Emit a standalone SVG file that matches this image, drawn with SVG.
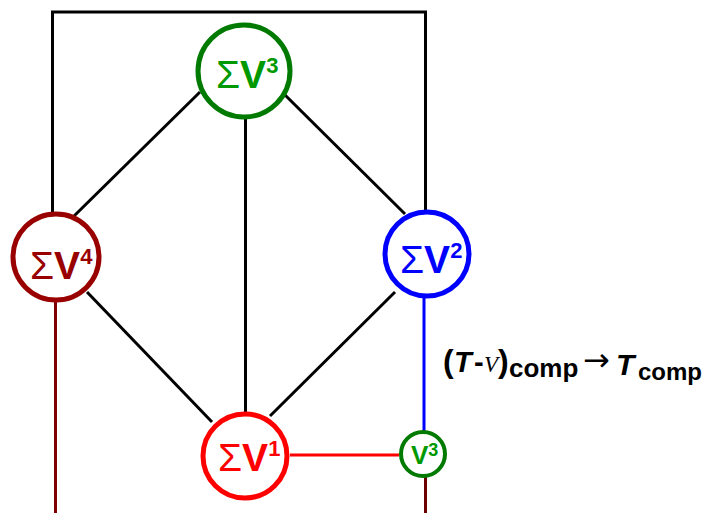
<svg xmlns="http://www.w3.org/2000/svg" width="707" height="513" viewBox="0 0 707 513">
<style>
.ln{fill:none;stroke-width:3}
.k{stroke:#000}
.node{fill:#fff;stroke-width:5}
.lab{font-family:"Liberation Sans",Arial,sans-serif;font-size:39px}
.s{font-weight:normal}
.b{font-weight:bold}
.sup{font-weight:bold;font-size:22px}
.eq{font-family:"Liberation Sans",Arial,sans-serif;font-weight:bold;fill:#000}
</style>
<rect width="707" height="513" fill="#fff"/>
<g id="connectors">
<polyline class="ln k" points="52.5,213 52.5,12 425.5,12 425.5,211"/>
<line class="ln k" x1="200" y1="92" x2="73" y2="217"/>
<line class="ln k" x1="283" y1="93" x2="405" y2="214"/>
<line class="ln k" x1="245.5" y1="118" x2="245.5" y2="413"/>
<line class="ln k" x1="87" y1="292" x2="212" y2="422"/>
<line class="ln k" x1="395" y1="292" x2="270" y2="416"/>
<line class="ln" stroke="#800000" x1="55.5" y1="301" x2="55.5" y2="513"/>
<line class="ln" stroke="#0000ff" x1="424" y1="297" x2="424" y2="431"/>
<line class="ln" stroke="#ff0000" x1="290" y1="455" x2="399" y2="455"/>
<line class="ln" stroke="#6b0000" x1="425.5" y1="477" x2="425.5" y2="513"/>
</g>
<g id="sumV3">
<circle class="node" stroke="#007a00" cx="244" cy="71" r="46"/>
<text class="lab" fill="#009900" x="216" y="88"><tspan class="s">Σ</tspan><tspan class="b">V</tspan><tspan class="sup" dy="-15">3</tspan></text>
</g>
<g id="sumV4">
<circle class="node" stroke="#990000" cx="56" cy="257" r="43"/>
<text class="lab" fill="#990000" x="30" y="279"><tspan class="s">Σ</tspan><tspan class="b">V</tspan><tspan class="sup" dy="-15">4</tspan></text>
</g>
<g id="sumV2">
<circle class="node" stroke="#0000ff" cx="427" cy="254" r="42"/>
<text class="lab" fill="#0000ff" x="400" y="273"><tspan class="s">Σ</tspan><tspan class="b">V</tspan><tspan class="sup" dy="-15">2</tspan></text>
</g>
<g id="sumV1">
<circle class="node" stroke="#ff0000" cx="245" cy="456" r="42"/>
<text class="lab" fill="#ff0000" x="218" y="471"><tspan class="s">Σ</tspan><tspan class="b">V</tspan><tspan class="sup" dy="-15">1</tspan></text>
</g>
<g id="V3">
<circle cx="423" cy="454" r="22" fill="#fff" stroke="#007a00" stroke-width="4"/>
<text font-family="Liberation Sans,Arial,sans-serif" font-weight="bold" fill="#009900" x="411" y="464" font-size="26">V<tspan font-size="18" dy="-8">3</tspan></text>
</g>
<g id="label">
<text class="eq" y="372"><tspan x="443" font-size="32">(</tspan><tspan x="454" font-size="29" font-style="italic">T</tspan><tspan x="474" font-size="29">-</tspan><tspan x="484" font-family="Liberation Serif,serif" font-weight="normal" font-style="italic" font-size="23">V</tspan><tspan x="498" font-size="32">)</tspan><tspan x="509" y="377" font-size="26">comp</tspan><tspan x="583" y="371" font-size="32" font-family="DejaVu Sans,sans-serif" font-weight="normal">→</tspan><tspan x="616" y="375" font-size="30" font-style="italic">T</tspan><tspan x="638" y="380" font-size="24">comp</tspan></text>
</g>
</svg>
